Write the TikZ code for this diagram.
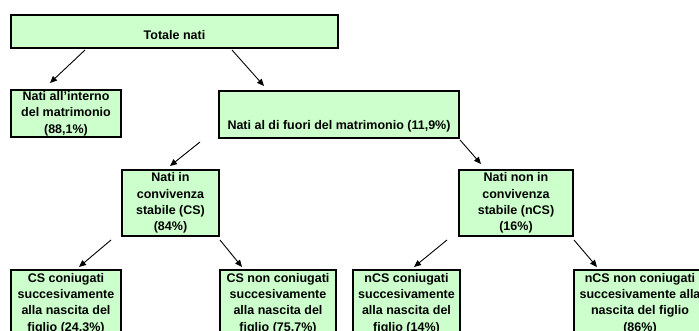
\documentclass[tikz,border=0pt]{standalone}
\usepackage{fontspec}
\setmainfont{Liberation Sans}
\usetikzlibrary{arrows.meta}
\definecolor{boxgreen}{HTML}{CCFFCC}
\begin{document}
\begin{tikzpicture}[x=1pt,y=-1pt,
  box/.style={draw=black,line width=2pt,fill=boxgreen,rectangle,inner sep=0pt,
    anchor=north west,align=center,font=\fontsize{12.5}{16.3}\selectfont\bfseries},
  arr/.style={-{Triangle[length=7pt,width=6pt]},line width=0.9pt}]
\useasboundingbox (0,0) rectangle (699,331);
\clip (0,0) rectangle (699,331);
\node[box,minimum width=327pt,minimum height=33pt] (top) at (10,14) {~\\Totale nati};
\node[box,minimum width=110pt,minimum height=47pt] (in) at (10,89) {Nati all'interno\\del matrimonio\\(88,1\%)};
\node[box,minimum width=240pt,minimum height=47pt] (out) at (218,90) {~\\~\\Nati al di fuori del matrimonio (11,9\%)};
\node[box,minimum width=97pt,minimum height=66pt] (cs) at (121,169) {Nati in\\convivenza\\stabile (CS)\\(84\%)};
\node[box,minimum width=114pt,minimum height=66pt] (ncs) at (458,169) {Nati non in\\convivenza\\stabile (nCS)\\(16\%)};
\node[box,minimum width=110pt,minimum height=67pt] (b1) at (10,269) {CS coniugati\\succesivamente\\alla nascita del\\figlio (24,3\%)};
\node[box,minimum width=116pt,minimum height=67pt] (b2) at (219,269) {CS non coniugati\\succesivamente\\alla nascita del\\figlio (75,7\%)};
\node[box,minimum width=107pt,minimum height=67pt] (b3) at (352,269) {nCS coniugati\\succesivamente\\alla nascita del\\figlio (14\%)};
\node[box,minimum width=132pt,minimum height=67pt] (b4) at (573,269) {nCS non coniugati\\succesivamente alla\\nascita del figlio\\(86\%)};
\draw[arr] ([xshift=75pt,yshift=-1pt]top.south west) -- ([xshift=40pt,yshift=6pt]in.north west);
\draw[arr] ([xshift=222pt,yshift=-1pt]top.south west) -- ([xshift=46pt,yshift=4pt]out.north west);
\draw[arr] ([xshift=-18pt,yshift=-3pt]out.south west) -- ([xshift=49pt,yshift=3pt]cs.north west);
\draw[arr] ([yshift=-1pt]out.south east) -- ([xshift=23pt,yshift=5pt]ncs.north west);
\draw[arr] ([xshift=-10pt,yshift=-3pt]cs.south west) -- ([xshift=69pt,yshift=2pt]b1.north west);
\draw[arr] ([yshift=-3pt]cs.south east) -- ([xshift=23pt,yshift=2pt]b2.north west);
\draw[arr] ([xshift=-11pt,yshift=-3pt]ncs.south west) -- ([xshift=62pt,yshift=2pt]b3.north west);
\draw[arr] ([yshift=-3pt]ncs.south east) -- ([xshift=24pt,yshift=2pt]b4.north west);
\end{tikzpicture}
\end{document}
